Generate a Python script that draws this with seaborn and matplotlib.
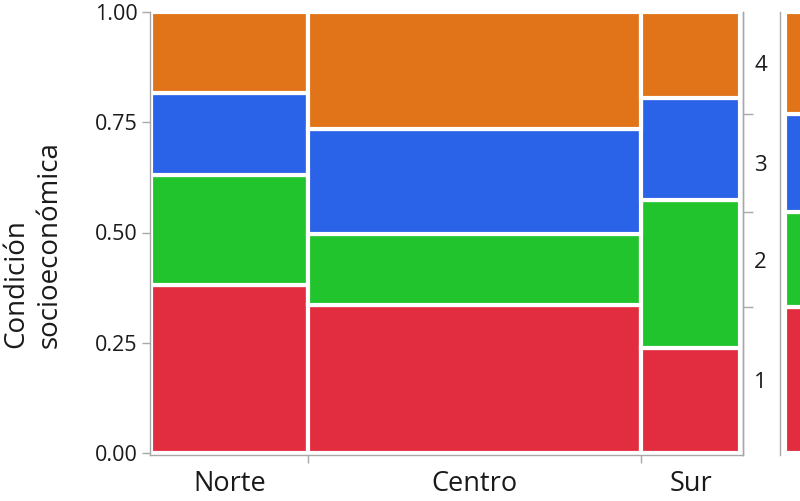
import numpy as np
import pandas as pd
import matplotlib
matplotlib.use("Agg")
import matplotlib.pyplot as plt
import seaborn as sns

# ---- data ----
regiones = ["Norte", "Centro", "Sur"]
peso_region = [0.267, 0.565, 0.168]          # column widths (share of cases)
niveles = ["1", "2", "3", "4"]
prop_1 = [0.381, 0.336, 0.238]
prop_2 = [0.249, 0.161, 0.336]
prop_3 = [0.186, 0.237, 0.231]
prop_4 = [0.184, 0.266, 0.195]
y_ticks = [0.00, 0.25, 0.50, 0.75, 1.00]
y_ticklabels = ["0.00", "0.25", "0.50", "0.75", "1.00"]
ylabel = "Condición\nsocioeconómica"

colores = {"1": "#E22D40", "2": "#22C42E", "3": "#2A62E8", "4": "#E17418"}

# ---- derived tables ----
props = [prop_1, prop_2, prop_3, prop_4]
edges = np.concatenate([[0.0], np.cumsum(peso_region)])
mids = (edges[:-1] + edges[1:]) / 2
rows = []
for lvl, p in zip(niveles, props):
    for r, m, v in zip(regiones, mids, p):
        rows.append({"x": float(m), "nivel": lvl, "peso": v, "region": r})
df = pd.DataFrame(rows)

marg = [float(np.dot(peso_region, p)) for p in props]
marg_cum = np.concatenate([[0.0], np.cumsum(marg)])
marg_mid = (marg_cum[:-1] + marg_cum[1:]) / 2
df_m = pd.DataFrame({"x": [0.5] * 4, "nivel": niveles, "peso": marg})

# ---- style ----
sns.set_theme(style="white")
plt.rcParams["font.family"] = ["Open Sans", "DejaVu Sans"]
gris = "#a8a8a8"
texto = "#1a1a1a"

W, H = 800, 501
fig = plt.figure(figsize=(8, 5.01), dpi=100)
ax_bottom = 1 - 455 / H
ax_height = (455 - 12) / H
ax = fig.add_axes([150 / W, ax_bottom, (743 - 150) / W, ax_height])

hue_order = niveles[::-1]
sns.histplot(data=df, x="x", weights="peso", hue="nivel", hue_order=hue_order,
             bins=[float(e) for e in edges], multiple="fill", palette=colores, alpha=1,
             edgecolor="white", linewidth=3, legend=False, ax=ax)

ax.set_xlim(-1 / 589, 1 + 3 / 589)
ax.set_ylim(-2 / 441, 1.0)
ax.set_xlabel("")
ax.set_ylabel("")

for s in ["top"]:
    ax.spines[s].set_visible(False)
for s in ["left", "bottom", "right"]:
    ax.spines[s].set_visible(True)
    ax.spines[s].set_color(gris)
    ax.spines[s].set_linewidth(1.0)

ax.set_yticks(y_ticks)
ax.set_yticklabels(y_ticklabels)
ax.tick_params(axis="y", which="major", left=True, right=False, length=6, width=1,
               color=gris, labelsize=15.5, labelcolor=texto, pad=3, direction="out")

ax.set_xticks(edges[1:-1])
ax.set_xticklabels([])
ax.set_xticks(mids, minor=True)
ax.set_xticklabels(regiones, minor=True)
ax.tick_params(axis="x", which="major", bottom=True, length=6, width=1, color=gris,
               direction="out")
ax.tick_params(axis="x", which="minor", bottom=True, length=0, labelsize=19.5,
               labelcolor=texto, pad=11)

# right axis with overall level boundaries
ax2 = ax.twinx()
ax2.set_ylim(ax.get_ylim())
for s in ["top", "left", "bottom"]:
    ax2.spines[s].set_visible(False)
ax2.spines["right"].set_color(gris)
ax2.spines["right"].set_linewidth(1.0)
ax2.set_yticks(marg_cum[1:-1])
ax2.set_yticklabels([])
ax2.set_yticks(marg_mid, minor=True)
ax2.set_yticklabels(niveles, minor=True)
ax2.tick_params(axis="y", which="major", right=True, length=7, width=1, color=gris,
                direction="out")
ax2.tick_params(axis="y", which="minor", right=True, length=0, labelsize=16,
                labelcolor=texto, pad=8)
ax2.grid(False)

# marginal bar (clipped at the right edge)
axm = fig.add_axes([780 / W, ax_bottom, 20 / W, ax_height])
sns.histplot(data=df_m, x="x", weights="peso", hue="nivel", hue_order=hue_order,
             bins=[0.0, 1.0], multiple="fill", palette=colores, alpha=1,
             edgecolor="white", linewidth=3, legend=False, ax=axm)
axm.set_xlim(-0.2, 0.6)
axm.set_ylim(ax.get_ylim())
axm.set_xlabel("")
axm.set_ylabel("")
axm.set_xticks([])
axm.set_yticks([])
for s in ["top", "right", "bottom"]:
    axm.spines[s].set_visible(False)
axm.spines["left"].set_visible(True)
axm.spines["left"].set_color(gris)
axm.spines["left"].set_linewidth(1.0)

fig.text(33 / W, 1 - 245 / H, ylabel, rotation=90, ha="center", va="center",
         multialignment="left", fontsize=20, color=texto, linespacing=1.25)

fig.savefig("out.png", dpi=100)
